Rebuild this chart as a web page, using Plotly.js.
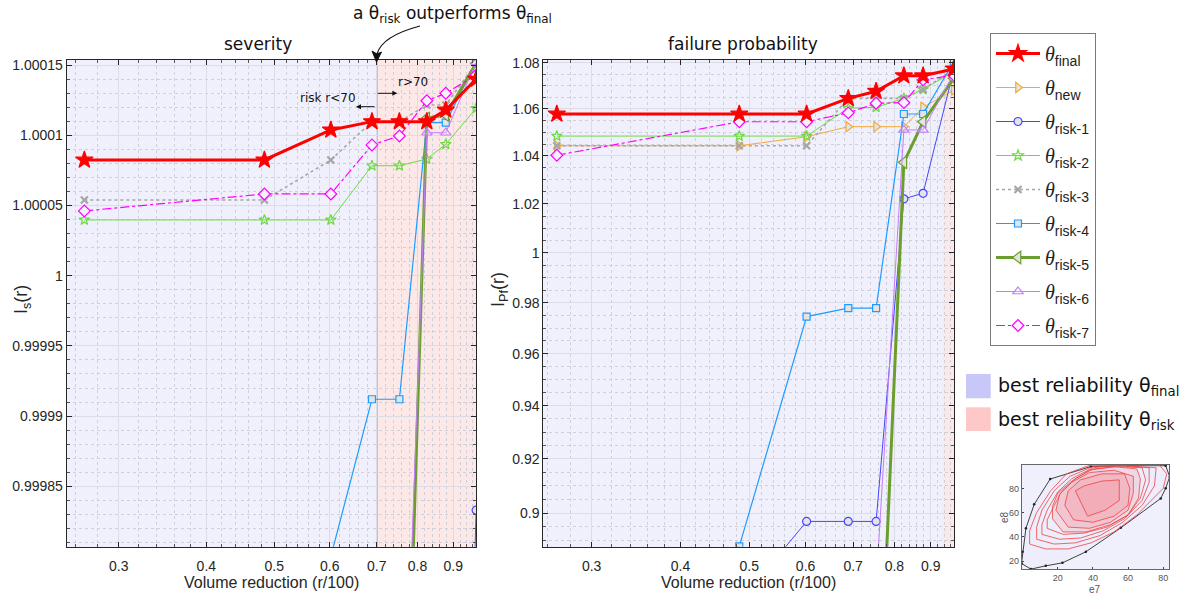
<!DOCTYPE html>
<html><head><meta charset="utf-8">
<script src="https://cdn.plot.ly/plotly-3.0.1.min.js"></script>
<style>html,body{margin:0;padding:0;background:#fff}#chart{width:1194px;height:599px}</style>
</head><body><div id="chart"></div>
<script>
// ---------------- data ----------------
const volumeReduction = [0.268, 0.484, 0.602, 0.689, 0.754, 0.825, 0.878, 0.970];

// severity I_s(r)
const sevFinal = [1.0000824, 1.0000824, 1.0001038, 1.0001097, 1.0001097, 1.0001097, 1.000118, 1.00014];
const sevRisk1 = [0.9980, 0.9981, 0.9982, 0.9984, 0.9986, 0.9988, 0.99906, 0.999833];
const sevRisk2 = [1.0000397, 1.0000397, 1.0000397, 1.0000783, 1.0000783, 1.0000831, 1.0000936, 1.0001192];
const sevRisk3 = [1.0000539, 1.0000539, 1.0000824, 1.0001097, 1.0001097, 1.0001216, 1.0001216, 1.0001513];
const sevRisk4 = [0.9995, 0.9996, 0.9998, 0.999912, 0.999912, 1.000109, 1.000109, 1.0001524];
const sevRisk5 = [0.9990, 0.9991, 0.9992, 0.9993, 0.99949, 1.0001121, 1.0001145, 1.0001513];
const sevRisk6 = [0.9990, 0.9991, 0.9992, 0.9993, 0.99956, 1.0001018, 1.0001018, 1.000152];
const sevRisk7 = [1.0000461, 1.0000582, 1.0000582, 1.0000931, 1.0000995, 1.0001246, 1.0001299, 1.0001429];

// failure probability I_Pf(r)
const pfFinal = [1.0578, 1.0578, 1.0578, 1.0645, 1.0676, 1.0743, 1.0743, 1.0773];
const pfNew   = [1.0443, 1.0443, 1.0481, 1.0524, 1.0524, 1.0524, 1.0607, 1.0681];
const pfRisk1 = [0.860, 0.868, 0.897, 0.897, 0.897, 1.0221, 1.0244, 1.077];
const pfRisk2 = [1.0484, 1.0484, 1.0484, 1.0603, 1.0607, 1.0645, 1.0684, 1.0761];
const pfRisk3 = [1.0443, 1.0443, 1.0443, 1.0645, 1.0645, 1.0645, 1.0684, 1.0771];
const pfRisk4 = [0.870, 0.888, 0.97453, 0.97784, 0.97784, 1.0578, 1.0578, 1.0805];
const pfRisk5 = [0.800, 0.800, 0.800, 0.800, 0.805, 1.0373, 1.0545, 1.0732];
const pfRisk6 = [0.860, 0.862, 0.866, 0.870, 0.874, 1.0510, 1.0510, 1.0755];
const pfRisk7 = [1.0403, 1.0545, 1.0545, 1.0583, 1.0624, 1.0627, 1.0725, 1.0746];

// axes ranges / ticks
const xRangeSev = [0.2529, 0.9696];
const xRangePf  = [0.2565, 0.9705];
const ySevRange = [0.999807, 1.0001536];
const yPfRange  = [0.88787, 1.08118];
const xTickVals = [0.3, 0.4, 0.5, 0.6, 0.7, 0.8, 0.9];
const xTickText = ['0.3', '0.4', '0.5', '0.6', '0.7', '0.8', '0.9'];
const xMinorVals = [0.26, 0.28, 0.32, 0.34, 0.36, 0.38, 0.42, 0.44, 0.46, 0.48, 0.52, 0.54, 0.56, 0.58,
  0.62, 0.64, 0.66, 0.68, 0.72, 0.74, 0.76, 0.78, 0.82, 0.84, 0.86, 0.88, 0.92, 0.94, 0.96];
const ySevTickVals = [0.99985, 0.9999, 0.99995, 1, 1.00005, 1.0001, 1.00015];
const ySevTickText = ['0.99985', '0.9999', '0.99995', '1', '1.00005', '1.0001', '1.00015'];
const yPfTickVals = [0.9, 0.92, 0.94, 0.96, 0.98, 1, 1.02, 1.04, 1.06, 1.08];
const yPfTickText = ['0.9', '0.92', '0.94', '0.96', '0.98', '1', '1.02', '1.04', '1.06', '1.08'];
const yPfMinorVals = [0.89, 0.895, 0.905, 0.91, 0.915, 0.925, 0.93, 0.935, 0.945, 0.95, 0.955, 0.965, 0.97, 0.975,
  0.985, 0.99, 0.995, 1.005, 1.01, 1.015, 1.025, 1.03, 1.035, 1.045, 1.05, 1.055, 1.065, 1.07, 1.075];
const sevBoundary = 0.7;     // risk r<70 / r>70
const pfBoundary = 0.937;

// inset (e7, e8) polygons
const hullE7 = [-0.6, 4.7, 13.2, 22.7, 36, 55.9, 78.6, 81.4, 83.7, 81.4, 60, 38.8, 15.7, 6.6, 1.9, 0, -0.6];
const hullE8 = [18, 13.3, 16, 18.5, 27.6, 47.4, 71.7, 80, 89.6, 98.7, 98.8, 98, 87.7, 66.8, 47, 27.6, 18];
const contourE7 = [
  [4, 13, 26, 39, 52, 65, 80, 82, 78, 55, 38, 25, 16, 8, 4, 4],
  [8, 18, 30, 44, 57, 68, 75, 76, 55, 40, 27, 18, 11, 8, 8],
  [11, 21, 33, 46, 58, 68, 72, 72, 55, 40, 28, 20, 14, 11, 11],
  [14, 23, 35, 48, 60, 67, 70, 68, 55, 40, 30, 22, 17, 14, 14],
  [17, 23, 36, 50, 60, 66, 67, 65, 52, 38, 28, 20, 17, 17],
  [19, 26, 38, 50, 60, 63, 63, 52, 38, 28, 21, 19],
  [24, 29, 40, 52, 60, 61, 58, 45, 33, 26, 24],
  [30, 37, 47, 55, 55, 45, 35, 30]
];
const contourE8 = [
  [34, 30, 30, 35, 44, 58, 80, 92, 99, 99, 99, 92, 78, 60, 45, 34],
  [38, 34, 35, 41, 52, 66, 82, 97, 99, 98, 90, 78, 62, 48, 38],
  [42, 38, 39, 45, 55, 70, 85, 97, 99, 97, 88, 77, 62, 50, 42],
  [47, 42, 43, 48, 58, 72, 87, 97, 98, 96, 88, 77, 63, 54, 47],
  [55, 44, 44, 50, 58, 72, 88, 96, 98, 95, 86, 76, 65, 55],
  [62, 48, 47, 52, 62, 76, 90, 95, 93, 85, 75, 62],
  [66, 54, 52, 57, 66, 80, 92, 92, 87, 78, 66],
  [78, 57, 62, 70, 87, 86, 82, 78]
];

// ---------------- styles ----------------
const W = 1194, H = 599;
const px = x => x / W, py = y => 1 - y / H;
const serif = t => '<span style="font-family:\'Liberation Serif\',serif;font-style:italic">θ</span><sub>' + t + '</sub>';
const FILL = '#e4e4e4';
const series = [
  {key:'new',   label:'new',    sev:null,     pf:pfNew,   color:'#f2a93b', width:1,   dash:'solid',   symbol:'triangle-right', size:9,  fill:FILL, rank:2},
  {key:'r1',    label:'risk-1', sev:sevRisk1, pf:pfRisk1, color:'#4646ff', width:1,   dash:'solid',   symbol:'circle',         size:8,  fill:FILL, rank:3},
  {key:'r2',    label:'risk-2', sev:sevRisk2, pf:pfRisk2, color:'#6fd845', width:1,   dash:'solid',   symbol:'star-open',      size:8,  fill:null, rank:4},
  {key:'r3',    label:'risk-3', sev:sevRisk3, pf:pfRisk3, color:'#a6a6a6', width:1.6, dash:'dot',     symbol:'x-thin-open',    size:7,  fill:null, rank:5},
  {key:'r4',    label:'risk-4', sev:sevRisk4, pf:pfRisk4, color:'#1f9bff', width:1.2, dash:'solid',   symbol:'square',         size:7,  fill:FILL, rank:6},
  {key:'r5',    label:'risk-5', sev:sevRisk5, pf:pfRisk5, color:'#6b9e2f', width:3,   dash:'solid',   symbol:'triangle-left',  size:11, fill:FILL, rank:7},
  {key:'r6',    label:'risk-6', sev:sevRisk6, pf:pfRisk6, color:'#c47cff', width:1,   dash:'solid',   symbol:'triangle-up',    size:9,  fill:'rgba(255,255,255,0.2)', rank:8},
  {key:'r7',    label:'risk-7', sev:sevRisk7, pf:pfRisk7, color:'#ff00ff', width:1.2, dash:'dashdot', symbol:'diamond',        size:9,  fill:'#f6f0ff', rank:9},
  {key:'final', label:'final',  sev:sevFinal, pf:pfFinal, color:'#ff0000', width:3,   dash:'solid',   symbol:'star',           size:13, fill:'#ff0000', rank:1}
];

function mk(s, yvals, xa, ya, showLegend) {
  const marker = {symbol: s.symbol, size: s.size};
  if (s.fill) { marker.color = s.fill; marker.line = {color: s.color, width: 1.2}; }
  else { marker.color = s.color; marker.line = {color: s.color, width: 1.2}; }
  if (s.symbol === 'x-thin-open') marker.line.width = 2.2;
  return {
    type: 'scatter', mode: 'lines+markers', x: volumeReduction, y: yvals,
    xaxis: xa, yaxis: ya, name: serif(s.label), legendrank: s.rank, legendgroup: s.key,
    showlegend: showLegend, cliponaxis: true,
    line: {color: s.color, width: s.width, dash: s.dash}, marker: marker, hoverinfo: 'x+y'
  };
}

const traces = [];
series.forEach(s => { if (s.sev) traces.push(mk(s, s.sev, 'x', 'y', false)); });
series.forEach(s => traces.push(mk(s, s.pf, 'x2', 'y2', true)));

// inset
traces.push({type:'scatter', mode:'lines+markers', x: hullE7, y: hullE8, xaxis:'x3', yaxis:'y3',
  fill:'toself', fillcolor:'#ededfb', line:{color:'#404040', width:1}, marker:{size:2.5, color:'#202020'},
  showlegend:false, hoverinfo:'skip'});
contourE7.forEach((cx, i) => {
  traces.push({type:'scatter', mode:'lines', x: cx, y: contourE8[i], xaxis:'x3', yaxis:'y3',
    fill: i >= 4 ? 'toself' : 'none', fillcolor: 'rgba(250,130,140,0.2)',
    line:{color:'#ee4444', width:0.8}, showlegend:false, hoverinfo:'skip'});
});

const tickFont = {family:'Liberation Sans, Arial, sans-serif', size:14, color:'#262626'};
function xax(domain, range) {
  return {type:'log', domain: domain, range: range.map(Math.log10), tickmode:'array', tickvals:xTickVals,
    ticktext:xTickText, ticks:'inside', ticklen:5, tickcolor:'#262626', showline:true, linecolor:'#262626',
    linewidth:1, mirror:'allticks', showgrid:true, gridcolor:'#dcdce6', gridwidth:1, zeroline:false,
    tickfont: tickFont, ticklabelstandoff: 6,
    minor:{tickmode:'array', tickvals:xMinorVals, ticks:'inside', ticklen:3, tickcolor:'#555', showgrid:true,
      gridcolor:'#d0d0da', griddash:'dot', gridwidth:1}};
}
const yDomain = [1 - 546.7 / H, 1 - 60 / H];
const ann = (x, y, text, font, extra) => Object.assign({xref:'paper', yref:'paper', x:px(x), y:py(y), text:text,
  showarrow:false, xanchor:'center', yanchor:'middle', font:font}, extra || {});
const dv = (size) => ({family:'DejaVu Sans, sans-serif', size:size, color:'#111'});
const lib = (size, color) => ({family:'Liberation Sans, Arial, sans-serif', size:size, color:color || '#262626'});

const layout = {
  width: W, height: H, margin:{l:0, r:0, t:0, b:0}, paper_bgcolor:'#ffffff', plot_bgcolor:'#f0f0fc',
  font:{family:'Liberation Sans, Arial, sans-serif', color:'#262626'},
  xaxis: xax([66.7 / W, 476 / W], xRangeSev),
  xaxis2: Object.assign(xax([543.3 / W, 954 / W], xRangePf), {anchor:'y2'}),
  yaxis: {domain: yDomain, range: ySevRange, tickmode:'array', tickvals: ySevTickVals, ticktext: ySevTickText,
    ticks:'inside', ticklen:5, tickcolor:'#262626', showline:true, linecolor:'#262626', mirror:'allticks',
    showgrid:true, gridcolor:'#dcdce6', zeroline:false, tickfont: tickFont,
    minor:{dtick:0.00001, ticks:'inside', ticklen:3, tickcolor:'#555', showgrid:true, gridcolor:'#d0d0da', griddash:'dot'}},
  yaxis2: {domain: yDomain, anchor:'x2', type:'log', range: yPfRange.map(Math.log10), tickmode:'array',
    tickvals: yPfTickVals, ticktext: yPfTickText, ticks:'inside', ticklen:5, tickcolor:'#262626', showline:true,
    linecolor:'#262626', mirror:'allticks', showgrid:true, gridcolor:'#dcdce6', zeroline:false, tickfont: tickFont,
    minor:{tickmode:'array', tickvals: yPfMinorVals, ticks:'inside', ticklen:3, tickcolor:'#555', showgrid:true,
      gridcolor:'#d0d0da', griddash:'dot'}},
  xaxis3: {domain:[1021.7 / W, 1169 / W], anchor:'y3', range:[-0.5, 83.3], tickvals:[20, 40, 60, 80],
    ticks:'inside', ticklen:2, showline:true, mirror:true, linecolor:'#666', showgrid:false, zeroline:false,
    tickfont:{size:9, color:'#555'}},
  yaxis3: {domain:[1 - 569 / H, 1 - 465 / H], anchor:'x3', range:[13.4, 99.3], tickvals:[20, 40, 60, 80],
    ticks:'inside', ticklen:2, showline:true, mirror:true, linecolor:'#666', showgrid:false, zeroline:false,
    tickfont:{size:9, color:'#555'}},
  showlegend: true,
  legend: {x: 990 / W, y: 1 - 33 / H, xanchor:'left', yanchor:'top', bgcolor:'#ffffff', bordercolor:'#7a7a7a',
    borderwidth:1, font:{family:'Liberation Sans, Arial, sans-serif', size:20, color:'#222'}, itemwidth:44,
    traceorder:'grouped', tracegroupgap:5, groupclick:'toggleitem'},
  shapes: [
    {type:'rect', xref:'x', yref:'y domain', x0:xRangeSev[0], x1:sevBoundary, y0:0, y1:1, fillcolor:'#f0f0fc', line:{width:0}, layer:'below'},
    {type:'rect', xref:'x', yref:'y domain', x0:sevBoundary, x1:xRangeSev[1], y0:0, y1:1, fillcolor:'#fde8e8', line:{width:0}, layer:'below'},
    {type:'line', xref:'x', yref:'y domain', x0:sevBoundary, x1:sevBoundary, y0:0, y1:1, line:{color:'#9a9a9a', width:1.5}, layer:'below'},
    {type:'rect', xref:'x2', yref:'y2 domain', x0:xRangePf[0], x1:pfBoundary, y0:0, y1:1, fillcolor:'#f0f0fc', line:{width:0}, layer:'below'},
    {type:'rect', xref:'x2', yref:'y2 domain', x0:pfBoundary, x1:xRangePf[1], y0:0, y1:1, fillcolor:'#fde8e8', line:{width:0}, layer:'below'},
    // second legend swatches
    {type:'rect', xref:'paper', yref:'paper', x0:px(966), x1:px(990.7), y0:py(398.3), y1:py(374), fillcolor:'#c8c8f8', line:{width:0}},
    {type:'rect', xref:'paper', yref:'paper', x0:px(966), x1:px(990.7), y0:py(431), y1:py(407.3), fillcolor:'#ffc8c8', line:{width:0}},
    // curved arrow
    {type:'path', xref:'paper', yref:'paper', path:'M ' + px(420) + ',' + py(26) + ' Q ' + px(382) + ',' + py(36) + ' ' + px(377) + ',' + py(54),
      line:{color:'#111', width:1.2}},
    {type:'path', xref:'paper', yref:'paper', path:'M ' + px(376.5) + ',' + py(62) + ' L ' + px(372) + ',' + py(51) + ' L ' + px(377) + ',' + py(54) + ' L ' + px(381.5) + ',' + py(52) + ' Z',
      fillcolor:'#111', line:{color:'#111', width:1}}
  ],
  annotations: [
    ann(258, 44, 'severity', dv(17)),
    ann(743, 44, 'failure probability', dv(17)),
    ann(452, 14, 'a θ<sub>risk</sub> outperforms θ<sub>final</sub>', dv(17)),
    ann(271, 582, 'Volume reduction (r/100)', lib(16)),
    ann(748, 582, 'Volume reduction (r/100)', lib(16)),
    ann(22, 300, 'I<sub>s</sub>(r)', lib(18), {textangle:-90}),
    ann(499, 290, 'I<sub>Pf</sub>(r)', lib(18), {textangle:-90}),
    ann(328, 97.7, 'risk r<70', dv(12)),
    ann(412.7, 82.3, 'r>70', dv(12)),
    {xref:'paper', yref:'paper', x:px(356), y:py(106.7), ax:20, ay:0, text:'', showarrow:true, arrowhead:2, arrowsize:1, arrowwidth:1, arrowcolor:'#111'},
    {xref:'paper', yref:'paper', x:px(397.3), y:py(93.3), ax:-21, ay:0, text:'', showarrow:true, arrowhead:2, arrowsize:1, arrowwidth:1, arrowcolor:'#111'},
    ann(996, 386.7, 'best reliability θ<sub>final</sub>', dv(19), {xanchor:'left'}),
    ann(996, 420, 'best reliability θ<sub>risk</sub>', dv(19), {xanchor:'left'}),
    ann(1095, 589, 'e7', lib(10, '#555')),
    ann(1004, 517, 'e8', lib(10, '#555'), {textangle:-90})
  ]
};

Plotly.newPlot('chart', traces, layout, {displayModeBar:false, staticPlot:true});
</script></body></html>
